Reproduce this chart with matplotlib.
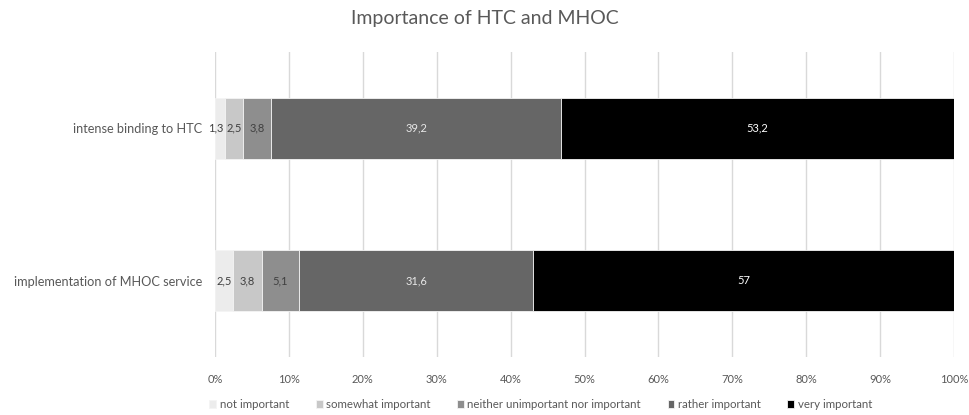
import matplotlib
matplotlib.use("Agg")
import matplotlib.pyplot as plt
import numpy as np

categories = ["intense binding to HTC", "implementation of MHOC service"]
series_names = ["not important", "somewhat important", "neither unimportant nor important",
                "rather important", "very important"]
values = {
    "not important": [1.3, 2.5],
    "somewhat important": [2.5, 3.8],
    "neither unimportant nor important": [3.8, 5.1],
    "rather important": [39.2, 31.6],
    "very important": [53.2, 57.0],
}
labels = {
    "not important": ["1,3", "2,5"],
    "somewhat important": ["2,5", "3,8"],
    "neither unimportant nor important": ["3,8", "5,1"],
    "rather important": ["39,2", "31,6"],
    "very important": ["53,2", "57"],
}
colors = ["#ececec", "#c8c8c8", "#8e8e8e", "#666666", "#000000"]
text_colors = ["#404040", "#404040", "#404040", "#e8e8e8", "#ffffff"]

plt.rcParams['font.family'] = ['Lato', 'DejaVu Sans']

fig = plt.figure(figsize=(9.69, 4.15), dpi=100)
ax = fig.add_axes([0.2219, 0.1398, 0.7626, 0.7349])

y = np.array([1, 0])
left = np.zeros(len(categories))
handles = []
for name, c, tc in zip(series_names, colors, text_colors):
    v = np.array(values[name])
    bars = ax.barh(y, v, left=left, height=0.4, color=c, edgecolor="#f4f4f4", linewidth=0.6, label=name)
    handles.append(bars)
    for yi, li, vi, lab in zip(y, left, v, labels[name]):
        dx = -3 if vi < 2 else 0
        ax.annotate(lab, (li + vi / 2, yi), xytext=(dx, 0), textcoords="offset points",
                    ha="center", va="center", fontsize=8.0, color=tc)
    left = left + v

ax.set_xlim(0, 100)
ax.set_ylim(-0.5, 1.5)
ax.set_xticks(np.arange(0, 101, 10))
ax.set_xticklabels([f"{t}%" for t in range(0, 101, 10)], fontsize=8, color="#595959")
ax.set_yticks(y)
ax.set_yticklabels(categories, fontsize=9.2, color="#595959")
ax.tick_params(length=0)
ax.tick_params(axis="x", pad=12)
ax.tick_params(axis="y", pad=9)
ax.grid(axis="x", color="#d9d9d9", linewidth=1)
ax.set_axisbelow(True)
for s in ax.spines.values():
    s.set_visible(False)

fig.suptitle("Importance of HTC and MHOC", y=0.975, fontsize=14, color="#595959")

fig.legend(handles=handles, labels=series_names, loc="center", bbox_to_anchor=(0.558, 0.025),
           ncol=5, frameon=False, fontsize=8.3, handlelength=0.6, handleheight=0.6,
           handletextpad=0.3, columnspacing=2.3, labelcolor="#595959")

fig.savefig("out.png", dpi=100)
